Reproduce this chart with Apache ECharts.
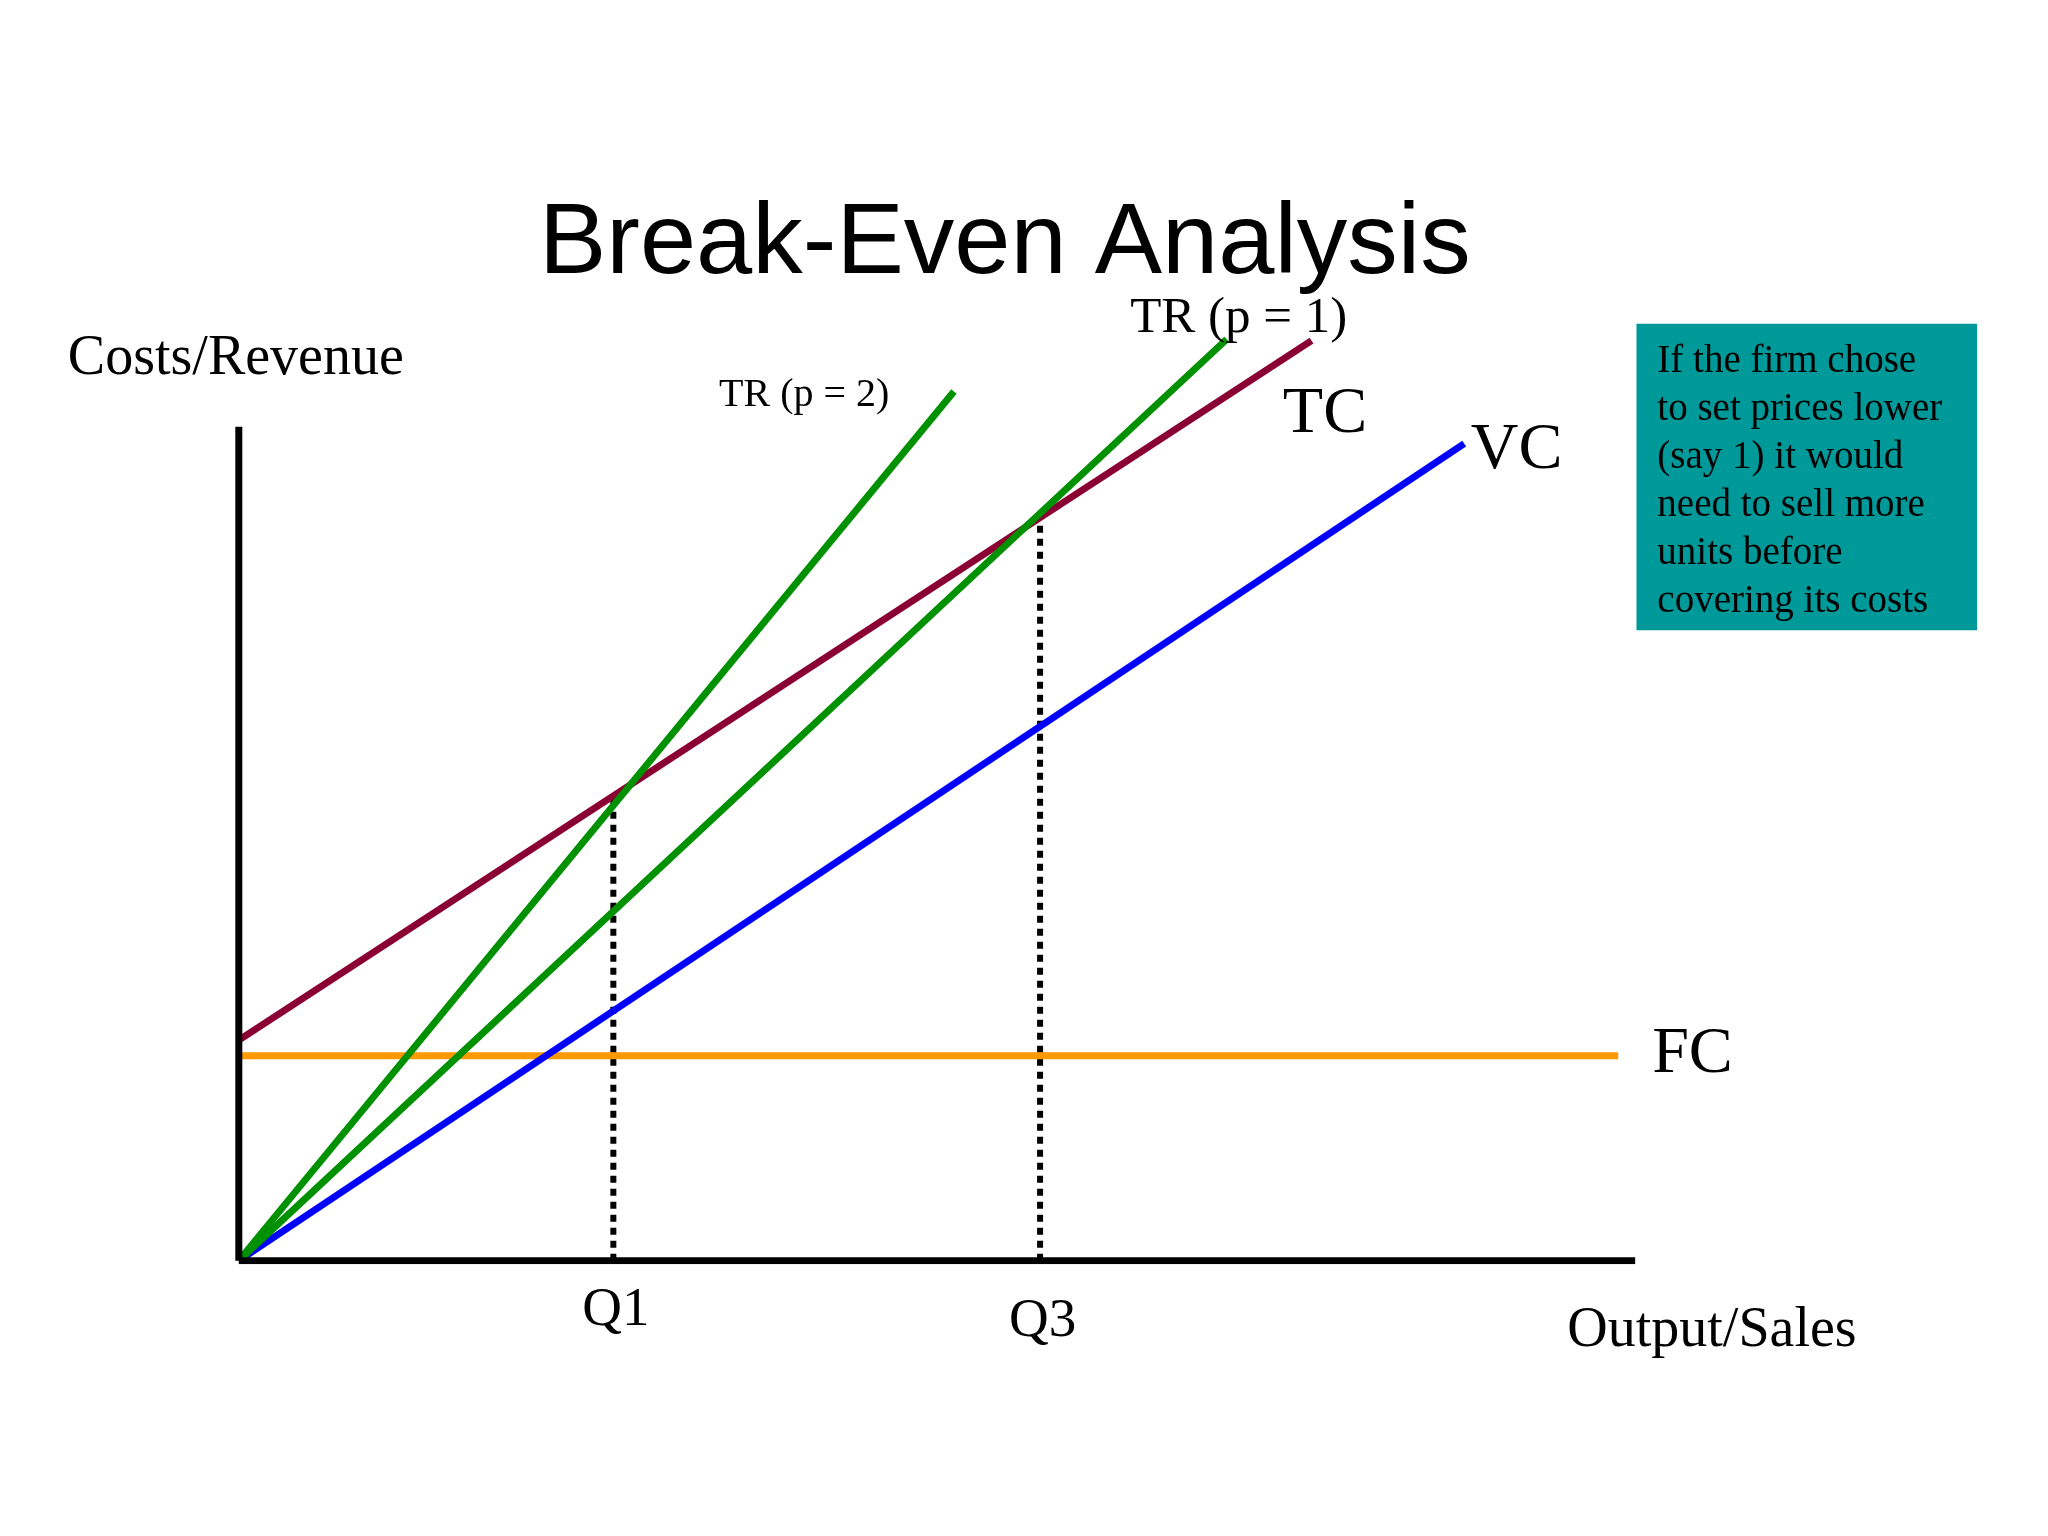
<!DOCTYPE html>
<html>
<head>
<meta charset="utf-8">
<script src="https://cdn.jsdelivr.net/npm/echarts@6/dist/echarts.min.js"></script>
<style>html,body{margin:0;background:#fff}#main{width:2048px;height:1536px}</style>
</head>
<body>
<div id="main"></div>
<script>
// data (arbitrary units)
var fcLine = [[0, 15.7], [105.7, 15.7]];
var tcLine = [[0, 16.9], [82.2, 70.5]];
var vcLine = [[0, 0], [93.9, 62.6]];
var tr2Line = [[0, 0], [54.8, 66.6]];
var tr1Line = [[0, 0], [75.7, 70.6]];
var q1Drop = [[28.7, 0], [28.7, 35.6]];
var q3Drop = [[61.4, 0], [61.4, 56.6]];
var yAxisLine = [[0, 0], [0, 63.9]];
var xAxisLine = [[0, 0], [107, 0]];

var serif = '"Liberation Serif", "DejaVu Serif", serif';
var K = 1.305; // layout scale
var myChart = echarts.init(document.getElementById('main'));

function seg(data, color, width, type, z) {
    return {
        type: 'line', data: data, symbol: 'none', z: z || 2, silent: true,
        lineStyle: { color: color, width: width, type: type || 'solid', cap: 'butt' }
    };
}

function txt(x, y, s, size, align, extra) {
    var o = { type: 'text', x: x * K, y: y * K, z: 10,
        style: { text: s, font: size + 'px ' + serif, fill: '#000',
                 align: align || 'left', verticalAlign: 'middle' } };
    if (extra) Object.assign(o.style, extra);
    return o;
}

var option = {
    backgroundColor: '#fff',
    animation: false,
    grid: { left: 183 * K, width: 1070 * K, top: 216 * K, height: 750 * K },
    xAxis: { type: 'value', min: 0, max: 107, show: false },
    yAxis: { type: 'value', min: 0, max: 75, show: false },
    series: [
        seg(q1Drop, '#000', 6, [7, 6], 1),
        seg(q3Drop, '#000', 6, [7, 6], 1),
        seg(fcLine, '#ff9900', 7),
        seg(vcLine, '#0000ff', 7),
        seg(tcLine, '#8b0033', 7),
        seg(tr1Line, '#009100', 7),
        seg(tr2Line, '#009100', 7),
        seg(yAxisLine, '#000', 7, 'solid', 5),
        seg(xAxisLine, '#000', 7, 'solid', 5)
    ],
    graphic: [
        { type: 'text', x: 770 * K, y: 188 * K, z: 10, style: { text: 'Break-Even Analysis',
            font: '101px "Liberation Sans", Arial, sans-serif', fill: '#000',
            align: 'center', verticalAlign: 'middle' } },
        txt(52, 275, 'Costs/Revenue', 56),
        txt(551, 303, 'TR (p = 2)', 40),
        txt(866, 244, 'TR (p = 1)', 51),
        txt(983, 318, 'TC', 66),
        txt(1127, 345, 'VC', 66),
        txt(1266, 808, 'FC', 66),
        txt(472, 1004, 'Q1', 55, 'center'),
        txt(799, 1013, 'Q3', 55, 'center'),
        txt(1201, 1020, 'Output/Sales', 56),
        { type: 'rect', shape: { x: 1254 * K, y: 248 * K, width: 261 * K, height: 235 * K },
          style: { fill: '#009999' } },
        txt(1270, 277, 'If the firm chose\nto set prices lower\n(say 1) it would\nneed to sell more\nunits before\ncovering its costs', 39,
            'left', { verticalAlign: 'top', lineHeight: 36.8 * K, y: -24 })
    ]
};
myChart.setOption(option);
window.onresize = function () { myChart.resize(); };
</script>
</body>
</html>
